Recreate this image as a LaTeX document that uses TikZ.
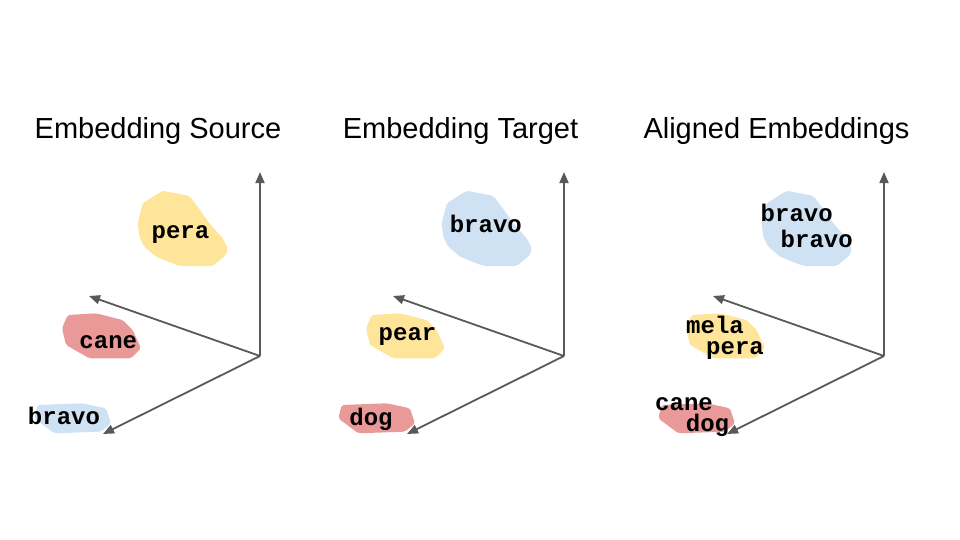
\documentclass[tikz,border=0pt]{standalone}
\usepackage{fontspec}
\setmainfont{Liberation Sans}
\newfontfamily\wordfont{Liberation Mono}
\usetikzlibrary{arrows.meta}
\definecolor{blobyellow}{HTML}{FFE599}
\definecolor{blobred}{HTML}{EA9999}
\definecolor{blobblue}{HTML}{CFE2F3}
\definecolor{axisgray}{HTML}{595959}
\tikzset{
  axis/.style={draw=axisgray, line width=1.8pt, -{Triangle[length=11pt,width=9pt]}},
  word/.style={font=\wordfont\bfseries\fontsize{24}{24}\selectfont, inner sep=0pt,
    text height=15pt, text depth=4pt, anchor=base},
  heading/.style={font=\fontsize{29}{29}\selectfont, inner sep=0pt, anchor=base},
  blob/.style={rounded corners=2pt}
}
\begin{document}
\begin{tikzpicture}[x=1pt,y=-1pt]
  \useasboundingbox (0,0) rectangle (960,540);
  % clusters, same outlines in every panel
  \foreach \dx/\ctop/\cmid/\clow in {0/blobyellow/blobred/blobblue,
      304/blobblue/blobyellow/blobred, 624/blobblue/blobyellow/blobred} {
    \begin{scope}[xshift=\dx pt]
      \fill[blob,\ctop] (162.7,190.7) -- (189.3,196) -- (197.7,206.7) -- (209.3,223.3)
        -- (222.7,238.3) -- (227.7,248.3) -- (226,255) -- (212.7,266) -- (179.3,266)
        -- (156,256.7) -- (144.3,246.7) -- (139.3,236.7) -- (137.7,223.3) -- (142.7,203.3) -- cycle;
      \fill[blob,\cmid] (67.7,315) -- (96,313.3) -- (122.7,320) -- (132.7,330) -- (141,348.3)
        -- (131,358.3) -- (89.3,358.3) -- (66,345) -- (62,328.3) -- cycle;
      \fill[blob,\clow] (37.7,405) -- (82.7,403.3) -- (106,408.3) -- (111,423.3)
        -- (101,431.7) -- (54.3,433.3) -- (34.3,418.3) -- cycle;
    \end{scope}
  }
  % axes
  \foreach \i/\dx in {1/0, 2/304, 3/624} {
    \coordinate (o\i) at (260+\dx,356);
    \coordinate (up\i) at (260+\dx,172);
    \coordinate (left\i) at (89+\dx,296);
    \coordinate (down\i) at (103+\dx,434);
    \draw[axis] (o\i) -- (up\i);
    \draw[axis] (o\i) -- (left\i);
    \draw[axis] (o\i) -- (down\i);
  }
  % titles
  \node[heading] (source) at (158,139) {Embedding Source};
  \node[heading] (target) at (460.5,139) {Embedding Target};
  \node[heading] (aligned) at (776.5,139) {Aligned Embeddings};
  % words
  \node[word] (pera) at (180.5,238) {pera};
  \node[word] (cane) at (108.3,348) {cane};
  \node[word] (bravo) at (64,424) {bravo};
  \node[word] (tbravo) at (485.8,232.7) {bravo};
  \node[word] (pear) at (407.5,340) {pear};
  \node[word] (dog) at (371,425) {dog};
  \node[word] (abravo) at (796.7,221) {bravo};
  \node[word] (abravob) at (816.7,247.3) {bravo};
  \node[word] (amela) at (715,333.3) {mela};
  \node[word] (apera) at (735,354) {pera};
  \node[word] (acane) at (684,410.5) {cane};
  \node[word] (adog) at (707.5,431) {dog};
\end{tikzpicture}
\end{document}
